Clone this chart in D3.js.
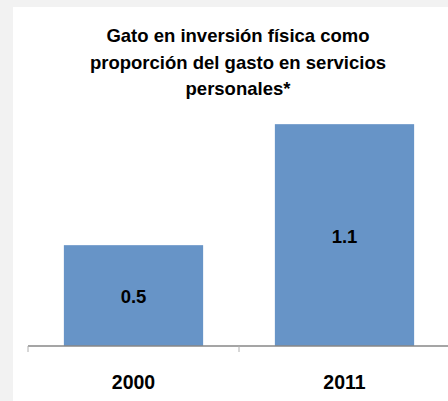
<!DOCTYPE html>
<meta charset="utf-8">
<style>
  body { margin: 0; background: #f2f2f2; }
  svg { display: block; }
  text { font-family: "Liberation Sans", Arial, sans-serif; font-weight: bold; fill: #000; }
</style>
<svg width="448" height="401"></svg>
<script src="https://d3js.org/d3.v7.min.js"></script>
<script>
var years = ['2000', '2011']
var values = [0.5, 1.1]
var labels = ['0.5', '1.1']
var titleLines = ['Gato en inversión física como', 'proporción del gasto en servicios', 'personales*']

var svg = d3.select('svg')

// white chart panel
svg.append('rect')
  .attr('x', 13).attr('y', 7)
  .attr('width', 448 - 13).attr('height', 401 - 7)
  .attr('fill', '#fff')

var x = d3.scaleBand().domain(years).range([28, 450]).paddingInner(0.34).paddingOuter(0.17)
var y = d3.scaleLinear().domain([0, 1.2]).range([346, 104])

svg.append('g').selectAll('rect')
  .data(values)
  .enter().append('rect')
    .attr('x', function (d, i) { return x(years[i]) })
    .attr('width', x.bandwidth())
    .attr('y', function (d) { return y(d) })
    .attr('height', function (d) { return y(0) - y(d) })
    .attr('fill', '#6794c7')

svg.append('g').selectAll('text')
  .data(values)
  .enter().append('text')
    .attr('x', function (d, i) { return x(years[i]) + x.bandwidth() / 2 })
    .attr('y', function (d) { return (y(d) + y(0)) / 2 + 1 })
    .attr('dy', '0.35em')
    .attr('text-anchor', 'middle')
    .attr('font-size', 18.5)
    .text(function (d, i) { return labels[i] })

// category axis
var axis = svg.append('g')
axis.append('line')
  .attr('x1', 28).attr('x2', 448)
  .attr('y1', y(0)).attr('y2', y(0))
  .attr('stroke', '#878787').attr('stroke-width', 1.5)
axis.selectAll('.tick')
  .data(years)
  .enter().append('line')
    .attr('x1', function (d) { return x(d) - x.step() * x.paddingOuter() })
    .attr('x2', function (d) { return x(d) - x.step() * x.paddingOuter() })
    .attr('y1', y(0)).attr('y2', y(0) + 6)
    .attr('stroke', '#b0b0b0')
axis.selectAll('text')
  .data(years)
  .enter().append('text')
    .attr('x', function (d) { return x(d) + x.bandwidth() / 2 })
    .attr('y', 382)
    .attr('dy', '0.35em')
    .attr('text-anchor', 'middle')
    .attr('font-size', 19.5)
    .text(function (d) { return d })

svg.append('g').selectAll('text')
  .data(titleLines)
  .enter().append('text')
    .attr('x', 238)
    .attr('y', function (d, i) { return 36 + i * 26.5 })
    .attr('dy', '0.35em')
    .attr('text-anchor', 'middle')
    .attr('font-size', 18.5)
    .text(function (d) { return d })
</script>
